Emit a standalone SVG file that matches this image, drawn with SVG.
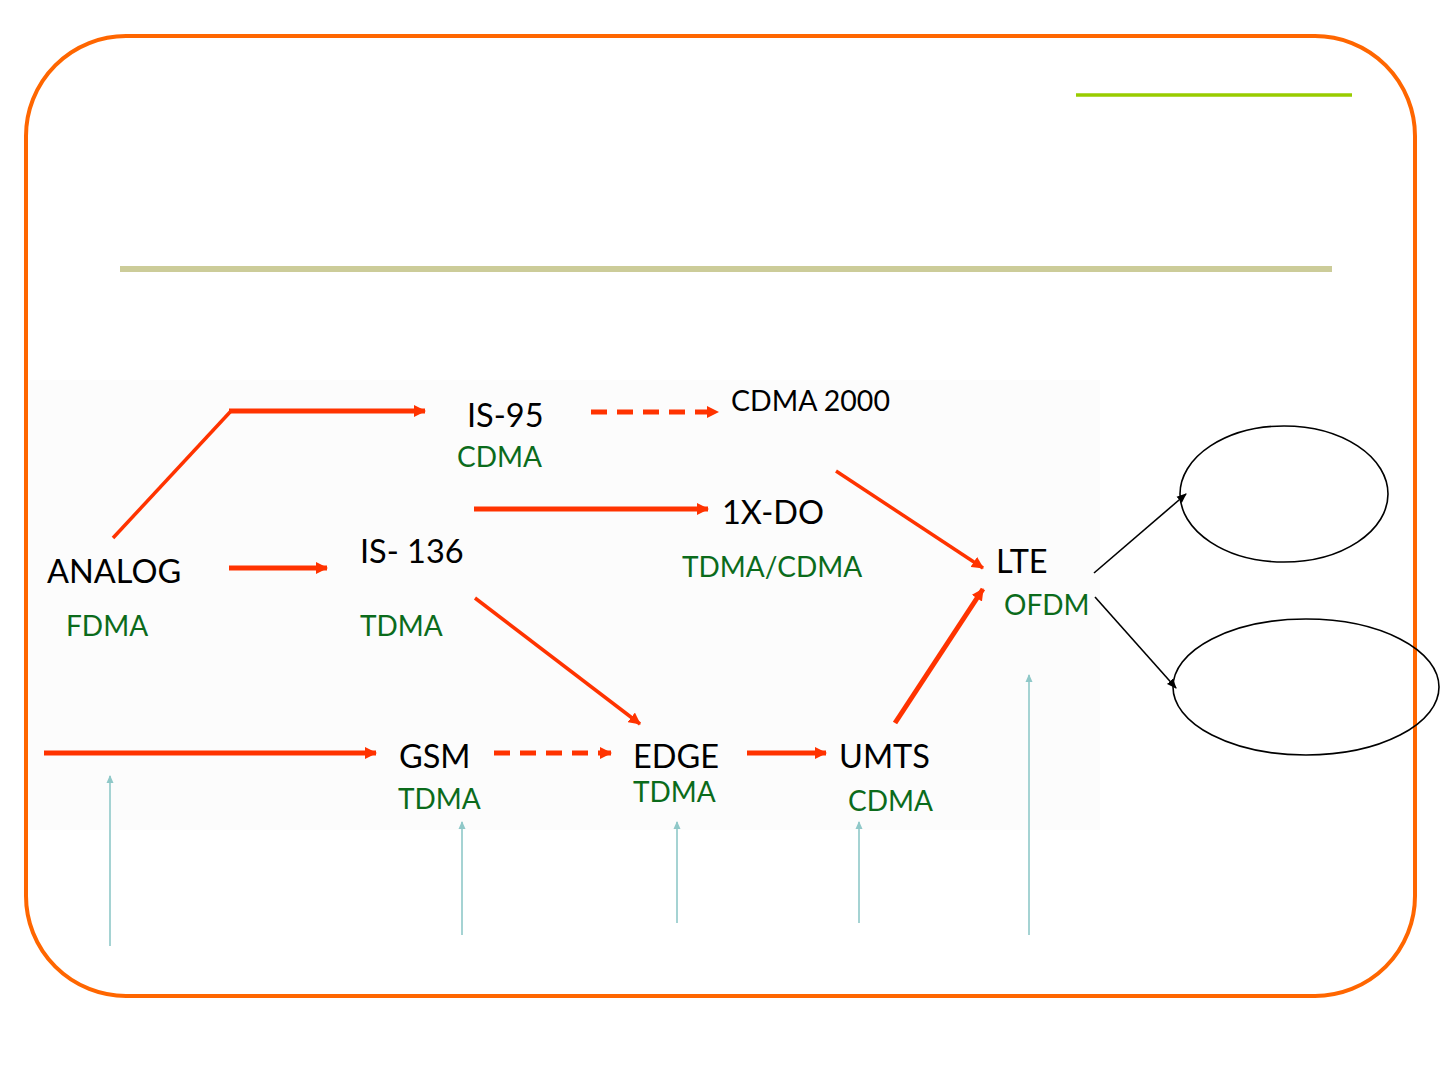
<svg xmlns="http://www.w3.org/2000/svg" width="1440" height="1080" viewBox="0 0 1440 1080">
<defs>
<style>
.k{font-family:Lato,"Open Sans","Liberation Sans",sans-serif;fill:#000;font-size:32.5px}
.g{font-family:Lato,"Open Sans","Liberation Sans",sans-serif;fill:#0b6b1b;font-size:28px}
.r{stroke:#ff3300;fill:none}
.t{stroke:#8fc8c8;stroke-width:1.6;fill:none}
.b{stroke:#000;stroke-width:1.6;fill:none}
</style>
<marker id="ar" markerUnits="userSpaceOnUse" markerWidth="12" markerHeight="12" refX="11" refY="6" orient="auto"><path d="M0,0 L12,6 L0,12 z" fill="#ff3300"/></marker>
<marker id="ab" markerUnits="userSpaceOnUse" markerWidth="10" markerHeight="10" refX="9" refY="5" orient="auto"><path d="M0,1 L10,5 L0,9 z" fill="#000"/></marker>
<marker id="at" markerUnits="userSpaceOnUse" markerWidth="8" markerHeight="8" refX="7" refY="4" orient="auto"><path d="M0,0.5 L8,4 L0,7.5 z" fill="#8fc8c8"/></marker>
</defs>
<rect x="28" y="380" width="1072" height="450" fill="#fcfcfc"/>
<rect x="26" y="36" width="1389" height="960" rx="100" ry="100" fill="none" stroke="#ff6600" stroke-width="4"/>
<line x1="1076" y1="95" x2="1352" y2="95" stroke="#99cc00" stroke-width="3.5"/>
<line x1="120" y1="269" x2="1332" y2="269" stroke="#cccc99" stroke-width="6"/>
<g id="connectors">
<line class="r" x1="113" y1="538" x2="231" y2="411" stroke-width="3.5"/>
<line class="r" x1="229" y1="411" x2="425" y2="411" stroke-width="5" marker-end="url(#ar)"/>
<line class="r" x1="591" y1="412" x2="718" y2="412" stroke-width="5" stroke-dasharray="16 10" marker-end="url(#ar)"/>
<line class="r" x1="474" y1="509" x2="708" y2="509" stroke-width="5" marker-end="url(#ar)"/>
<line class="r" x1="229" y1="568" x2="327" y2="568" stroke-width="5" marker-end="url(#ar)"/>
<line class="r" x1="836" y1="471" x2="983" y2="568" stroke-width="3.5" marker-end="url(#ar)"/>
<line class="r" x1="475" y1="598" x2="640" y2="724" stroke-width="3.5" marker-end="url(#ar)"/>
<line class="r" x1="44" y1="753" x2="376" y2="753" stroke-width="5" marker-end="url(#ar)"/>
<line class="r" x1="494" y1="753" x2="611" y2="753" stroke-width="5" stroke-dasharray="16 10" marker-end="url(#ar)"/>
<line class="r" x1="747" y1="753" x2="826" y2="753" stroke-width="5" marker-end="url(#ar)"/>
<line class="r" x1="895" y1="723" x2="983" y2="589" stroke-width="5" marker-end="url(#ar)"/>
<line class="b" x1="1094" y1="573" x2="1186" y2="494" marker-end="url(#ab)"/>
<line class="b" x1="1095" y1="597" x2="1176" y2="688" marker-end="url(#ab)"/>
<line class="t" x1="110" y1="946" x2="110" y2="776" marker-end="url(#at)"/>
<line class="t" x1="462" y1="935" x2="462" y2="822" marker-end="url(#at)"/>
<line class="t" x1="677" y1="923" x2="677" y2="822" marker-end="url(#at)"/>
<line class="t" x1="859" y1="923" x2="859" y2="822" marker-end="url(#at)"/>
<line class="t" x1="1029" y1="935" x2="1029" y2="675" marker-end="url(#at)"/>
</g>
<g id="analog"><text class="k" x="47" y="583">ANALOG</text><text class="g" x="66" y="636">FDMA</text></g>
<g id="is95"><text class="k" x="467" y="427">IS-95</text><text class="g" x="457" y="467">CDMA</text></g>
<g id="cdma2000"><text class="k" x="731" y="411" style="font-size:28.5px">CDMA 2000</text></g>
<g id="is136"><text class="k" x="360" y="563">IS- 136</text><text class="g" x="360" y="636">TDMA</text></g>
<g id="onexdo"><text class="k" x="722" y="524">1X-DO</text><text class="g" x="682" y="577">TDMA/CDMA</text></g>
<g id="lte"><text class="k" x="996" y="573">LTE</text><text class="g" x="1004" y="615">OFDM</text></g>
<g id="gsm"><text class="k" x="399" y="768">GSM</text><text class="g" x="398" y="809">TDMA</text></g>
<g id="edge"><text class="k" x="633" y="768">EDGE</text><text class="g" x="633" y="802">TDMA</text></g>
<g id="umts"><text class="k" x="839" y="768">UMTS</text><text class="g" x="848" y="811">CDMA</text></g>
<g id="ellipse1"><ellipse cx="1284" cy="494" rx="104" ry="68" fill="none" stroke="#000" stroke-width="1.6"/></g>
<g id="ellipse2"><ellipse cx="1306" cy="687" rx="133" ry="68" fill="none" stroke="#000" stroke-width="1.6"/></g>
</svg>
